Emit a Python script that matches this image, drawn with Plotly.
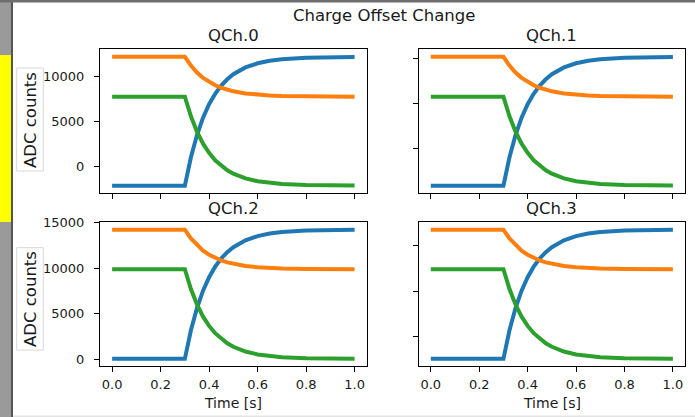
import plotly.graph_objects as go

W, H = 695, 417

# ---- data ----
t = [0.0, 0.3, 0.325, 0.35, 0.375, 0.4, 0.425, 0.45, 0.475, 0.5,
     0.55, 0.6, 0.65, 0.7, 0.8, 0.9, 1.0]

top_blue = [-2100, -2100, 1050, 3500, 5420, 6910, 8070, 8970, 9670, 10230,
            10980, 11440, 11720, 11890, 12050, 12110, 12140]
top_orange = [12150, 12150, 11180, 10420, 9830, 9370, 9010, 8730, 8520, 8340,
              8110, 7970, 7880, 7830, 7780, 7760, 7750]
top_green = [7750, 7750, 5570, 3880, 2550, 1530, 720, 100, -390, -770,
             -1290, -1610, -1800, -1920, -2030, -2080, -2090]

bot_blue = [50, 50, 3190, 5630, 7540, 9020, 10180, 11080, 11770, 12320,
            13080, 13530, 13810, 13990, 14140, 14200, 14230]
bot_orange = [14240, 14240, 13280, 12530, 11940, 11490, 11140, 10860, 10650, 10480,
              10250, 10110, 10020, 9970, 9920, 9900, 9890]
bot_green = [9890, 9890, 7720, 6020, 4690, 3670, 2870, 2240, 1760, 1380,
             860, 540, 350, 230, 120, 80, 60]

channels = ["QCh.0", "QCh.1", "QCh.2", "QCh.3"]
channel_series = {
    "QCh.0": (top_blue, top_orange, top_green),
    "QCh.1": (top_blue, top_orange, top_green),
    "QCh.2": (bot_blue, bot_orange, bot_green),
    "QCh.3": (bot_blue, bot_orange, bot_green),
}
colors = ["#1f77b4", "#ff7f0e", "#2ca02c"]

x_ticks = [0.0, 0.2, 0.4, 0.6, 0.8, 1.0]
x_tick_labels = ["0.0", "0.2", "0.4", "0.6", "0.8", "1.0"]
y_ticks_top = [0, 5000, 10000]
y_tick_labels_top = ["0", "5000", "10000"]
y_ticks_bot = [0, 5000, 10000, 15000]
y_tick_labels_bot = ["0", "5000", "10000", "15000"]
y_ticks_top_right = [2030, 7000, 11930]
y_ticks_bot_right = [2500, 7500, 12500]

# ---- layout geometry (pixels) ----
def px(x):
    return x / W

def py(y):
    return 1 - y / H

col_dom = [(100, 366.7), (418.7, 685)]
row_dom = [(49, 193.3), (222.3, 365.7)]

fig = go.Figure()

axis_common = dict(
    showline=True, mirror=True, linecolor="black", linewidth=1,
    ticks="outside", ticklen=5, tickwidth=1, tickcolor="black",
    showgrid=False, zeroline=False, automargin=False,
    tickfont=dict(family="DejaVu Sans", size=13, color="#1a1a1a"),
    fixedrange=True,
)

layout_axes = {}
for i, ch in enumerate(channels):
    r, c = divmod(i, 2)
    n = "" if i == 0 else str(i + 1)
    xa = dict(axis_common)
    xa.update(
        domain=[px(col_dom[c][0]), px(col_dom[c][1])],
        anchor="y" + n, range=[-0.05, 1.05],
        tickmode="array", tickvals=x_ticks, ticktext=x_tick_labels,
        showticklabels=(r == 1), ticklabelstandoff=2,
    )
    ya = dict(axis_common)
    if r == 0:
        yr = [-2940, 13020]
        yt = y_ticks_top if c == 0 else y_ticks_top_right
        ytt = y_tick_labels_top if c == 0 else [""] * 3
    else:
        yr = [-700, 15050]
        yt = y_ticks_bot if c == 0 else y_ticks_bot_right
        ytt = y_tick_labels_bot if c == 0 else [""] * 3
    ya.update(
        domain=[py(row_dom[r][1]), py(row_dom[r][0])],
        anchor="x" + n, range=yr, tickmode="array", tickvals=yt, ticktext=ytt,
        showticklabels=(c == 0), ticklabelstandoff=7,
    )
    layout_axes["xaxis" + n] = xa
    layout_axes["yaxis" + n] = ya
    for s, col in zip(channel_series[ch], colors):
        fig.add_trace(go.Scatter(
            x=t, y=s, mode="lines", xaxis="x" + n, yaxis="y" + n,
            line=dict(color=col, width=4), showlegend=False,
            hoverinfo="skip",
        ))

annotations = []
font_t = dict(family="DejaVu Sans", size=16.5, color="#1a1a1a")
annotations.append(dict(text="Charge Offset Change", x=px(383.5), y=py(15),
                        xref="paper", yref="paper", showarrow=False,
                        xanchor="center", yanchor="middle", font=font_t))
for i, ch in enumerate(channels):
    r, c = divmod(i, 2)
    cx = (col_dom[c][0] + col_dom[c][1]) / 2
    cy = row_dom[r][0] - 13.5
    annotations.append(dict(text=ch, x=px(cx), y=py(cy), xref="paper", yref="paper",
                            showarrow=False, xanchor="center", yanchor="middle",
                            font=font_t))
for c in range(2):
    cx = (col_dom[c][0] + col_dom[c][1]) / 2
    annotations.append(dict(text="Time [s]", x=px(cx), y=py(403), xref="paper",
                            yref="paper", showarrow=False, xanchor="center",
                            yanchor="middle",
                            font=dict(family="DejaVu Sans", size=14, color="#1a1a1a")))
for cy in (120, 299):
    annotations.append(dict(text="ADC counts", x=px(30), y=py(cy), xref="paper",
                            yref="paper", showarrow=False, xanchor="center",
                            yanchor="middle", textangle=-90,
                            font=dict(family="DejaVu Sans", size=16.5, color="#1a1a1a")))

shapes = [
    dict(type="rect", x0=0, x1=px(11), y0=0, y1=1, xref="paper", yref="paper",
         fillcolor="#9a9a9a", line=dict(width=0)),
    dict(type="rect", x0=px(11), x1=px(13), y0=0, y1=1, xref="paper", yref="paper",
         fillcolor="#555555", line=dict(width=0)),
    dict(type="rect", x0=0, x1=px(11), y0=py(222), y1=py(55), xref="paper", yref="paper",
         fillcolor="#ffff00", line=dict(width=0)),
    dict(type="rect", x0=0, x1=1, y0=py(2.5), y1=1, xref="paper", yref="paper",
         fillcolor="#6e6e6e", line=dict(width=0)),
    dict(type="rect", x0=px(13), x1=1, y0=0, y1=py(415.5), xref="paper", yref="paper",
         fillcolor="#e4e4e4", line=dict(width=0)),
    dict(type="rect", x0=px(16.7), x1=px(43.3), y0=py(171), y1=py(68), xref="paper",
         yref="paper", line=dict(color="#d8d8d8", width=1), fillcolor="rgba(0,0,0,0)"),
    dict(type="rect", x0=px(16.7), x1=px(43.3), y0=py(350), y1=py(247.7), xref="paper",
         yref="paper", line=dict(color="#d8d8d8", width=1), fillcolor="rgba(0,0,0,0)"),
]

fig.update_layout(
    width=W, height=H,
    margin=dict(l=0, r=0, t=0, b=0, pad=0),
    paper_bgcolor="white", plot_bgcolor="white",
    annotations=annotations, shapes=shapes,
    **layout_axes,
)

fig.write_html("out.html", config={"displayModeBar": False})
